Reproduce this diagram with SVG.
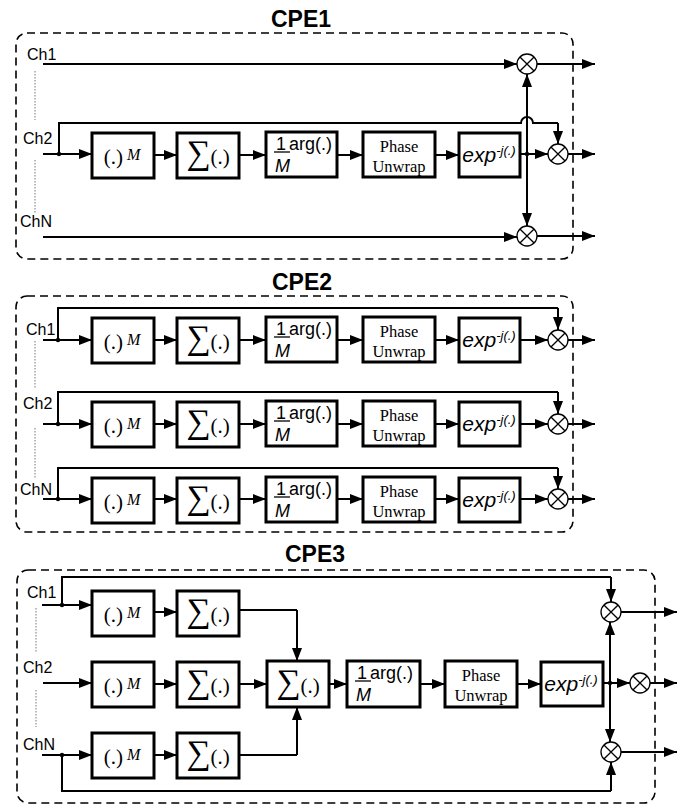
<svg xmlns="http://www.w3.org/2000/svg" width="693" height="806" viewBox="0 0 693 806">
<defs>
<marker id="ah" markerUnits="userSpaceOnUse" markerWidth="13" markerHeight="10" refX="13" refY="5" orient="auto">
<path d="M0,0 L13,5 L0,10 z" fill="#000"/>
</marker>
<g id="mul">
<circle cx="0" cy="0" r="10" fill="#fff" stroke="#000" stroke-width="1.3"/>
<path d="M-7.07,-7.07 L7.07,7.07 M-7.07,7.07 L7.07,-7.07" stroke="#000" stroke-width="1.3"/>
</g>
</defs>
<style>
.frame{fill:none;stroke:#000;stroke-width:1.6;stroke-dasharray:8 5}
.box{fill:#fff;stroke:#000;stroke-width:3}
.w{fill:none;stroke:#000;stroke-width:2}
.a{fill:none;stroke:#000;stroke-width:2;marker-end:url(#ah)}
.dot{fill:#000}
.dotted{stroke:#666;stroke-width:0.9;stroke-dasharray:1.5 1.5;fill:none}
.title{font-family:"Liberation Sans",Arial,sans-serif;font-weight:bold;font-size:23px;text-anchor:middle}
.lbl{font-family:"Liberation Sans",Arial,sans-serif;font-size:16px}
.ser{font-family:"Liberation Serif","Times New Roman",serif;font-size:21px;text-anchor:middle}
.sig{font-family:"Liberation Serif","Times New Roman",serif;text-anchor:middle}
.san{font-family:"Liberation Sans",Arial,sans-serif;font-size:18px}
.ph{font-family:"Liberation Serif","Times New Roman",serif;font-size:16.5px;text-anchor:middle}
.ex{font-family:"Liberation Sans",Arial,sans-serif;font-size:21px;font-style:italic;text-anchor:middle}
</style>

<!-- ================= CPE1 ================= -->
<g id="cpe1">
<text class="title" x="301" y="27">CPE1</text>
<rect class="frame" x="16" y="33" width="557" height="226" rx="11"/>
<text class="lbl" x="27" y="60">Ch1</text>
<text class="lbl" x="23" y="144">Ch2</text>
<text class="lbl" x="20" y="227">ChN</text>
<path class="dotted" d="M35,71 V120 M35,160 V213"/>
</g>
<g id="cpe1-connectors">
<path class="a" d="M43,64 H517"/>
<path class="w" d="M43,154 H59"/>
<path class="a" d="M59,154 H92"/>
<path class="w" d="M59,154 V123 H521 A6,6 0 0 1 533,123 H558"/>
<path class="a" d="M558,123 V144"/>
<path class="a" d="M154,155 H177"/>
<path class="a" d="M239,155 H266"/>
<path class="a" d="M337,155 H363"/>
<path class="a" d="M435,155 H459"/>
<path class="a" d="M520,154 H548"/>
<path class="a" d="M527,154 V74"/>
<path class="a" d="M527,154 V226"/>
<path class="a" d="M43,237 H517"/>
<path class="a" d="M537,64 H595"/>
<path class="a" d="M568,154 H595"/>
<path class="a" d="M537,236 H595"/>
<circle class="dot" cx="59" cy="154" r="2.2"/>
<circle class="dot" cx="527" cy="154" r="2.2"/>
</g>
<g id="cpe1-pow"><rect class="box" x="92" y="133" width="62" height="45"/><text class="ser" x="122" y="164">(.)<tspan font-style="italic" font-size="16" dy="-4"> M</tspan></text></g>
<g id="cpe1-sum"><rect class="box" x="177" y="133" width="62" height="45"/><text class="sig" x="208" y="164"><tspan font-size="34">∑</tspan><tspan font-size="21">(.)</tspan></text></g>
<g id="cpe1-arg"><rect class="box" x="266" y="132" width="71" height="45"/><text class="san" x="281" y="150" text-anchor="middle">1</text><path d="M274,152 H290" stroke="#000" stroke-width="1.3"/><text class="san" x="275" y="172" font-style="italic">M</text><text class="san" x="289" y="150">arg(.)</text></g>
<g id="cpe1-phase"><rect class="box" x="363" y="132" width="72" height="45"/><text class="ph" x="399" y="152">Phase</text><text class="ph" x="399" y="172">Unwrap</text></g>
<g id="cpe1-exp"><rect class="box" x="459" y="133" width="61" height="44"/><text class="ex" x="489" y="162">exp<tspan font-size="13" dy="-7">-j(.)</tspan></text></g>
<g id="cpe1-m1"><use href="#mul" x="527" y="64"/></g>
<g id="cpe1-m2"><use href="#mul" x="558" y="154"/></g>
<g id="cpe1-m3"><use href="#mul" x="527" y="236"/></g>

<!-- ================= CPE2 ================= -->
<g id="cpe2">
<text class="title" x="302" y="290">CPE2</text>
<rect class="frame" x="16" y="296" width="557" height="236" rx="11"/>
<text class="lbl" x="26" y="335">Ch1</text>
<text class="lbl" x="23" y="409">Ch2</text>
<text class="lbl" x="20" y="495">ChN</text>
<path class="dotted" d="M35,341 V388 M35,428 V478"/>
</g>
<g id="cpe2-connectors">
<path class="w" d="M43,340 H58 V308 H558"/>
<path class="a" d="M58,340 H92"/>
<path class="a" d="M558,308 V330"/>
<path class="a" d="M154,340 H177"/>
<path class="a" d="M239,340 H266"/>
<path class="a" d="M337,340 H363"/>
<path class="a" d="M435,340 H459"/>
<path class="a" d="M520,340 H548"/>
<path class="a" d="M568,340 H595"/>
<circle class="dot" cx="58" cy="340" r="2.2"/>

<path class="w" d="M43,424 H58 V392 H558"/>
<path class="a" d="M58,424 H92"/>
<path class="a" d="M558,392 V414"/>
<path class="a" d="M154,424 H177"/>
<path class="a" d="M239,424 H266"/>
<path class="a" d="M337,424 H363"/>
<path class="a" d="M435,424 H459"/>
<path class="a" d="M520,424 H548"/>
<path class="a" d="M568,424 H595"/>
<circle class="dot" cx="58" cy="424" r="2.2"/>

<path class="w" d="M43,499 H58 V468 H558"/>
<path class="a" d="M58,499 H92"/>
<path class="a" d="M558,468 V489"/>
<path class="a" d="M154,499 H177"/>
<path class="a" d="M239,499 H266"/>
<path class="a" d="M337,499 H363"/>
<path class="a" d="M435,499 H459"/>
<path class="a" d="M520,499 H548"/>
<path class="a" d="M568,499 H595"/>
<circle class="dot" cx="58" cy="499" r="2.2"/>
</g>
<g id="cpe2-pow1"><rect class="box" x="92" y="318" width="62" height="45"/><text class="ser" x="122" y="349">(.)<tspan font-style="italic" font-size="16" dy="-4"> M</tspan></text></g>
<g id="cpe2-sum1"><rect class="box" x="177" y="318" width="62" height="45"/><text class="sig" x="208" y="349"><tspan font-size="34">∑</tspan><tspan font-size="21">(.)</tspan></text></g>
<g id="cpe2-arg1"><rect class="box" x="266" y="317" width="71" height="45"/><text class="san" x="281" y="335" text-anchor="middle">1</text><path d="M274,337 H290" stroke="#000" stroke-width="1.3"/><text class="san" x="275" y="357" font-style="italic">M</text><text class="san" x="289" y="335">arg(.)</text></g>
<g id="cpe2-phase1"><rect class="box" x="363" y="317" width="72" height="45"/><text class="ph" x="399" y="337">Phase</text><text class="ph" x="399" y="357">Unwrap</text></g>
<g id="cpe2-exp1"><rect class="box" x="459" y="318" width="61" height="44"/><text class="ex" x="489" y="347">exp<tspan font-size="13" dy="-7">-j(.)</tspan></text></g>
<g id="cpe2-m1"><use href="#mul" x="558" y="340"/></g>

<g id="cpe2-pow2"><rect class="box" x="92" y="402" width="62" height="45"/><text class="ser" x="122" y="433">(.)<tspan font-style="italic" font-size="16" dy="-4"> M</tspan></text></g>
<g id="cpe2-sum2"><rect class="box" x="177" y="402" width="62" height="45"/><text class="sig" x="208" y="433"><tspan font-size="34">∑</tspan><tspan font-size="21">(.)</tspan></text></g>
<g id="cpe2-arg2"><rect class="box" x="266" y="401" width="71" height="45"/><text class="san" x="281" y="419" text-anchor="middle">1</text><path d="M274,421 H290" stroke="#000" stroke-width="1.3"/><text class="san" x="275" y="441" font-style="italic">M</text><text class="san" x="289" y="419">arg(.)</text></g>
<g id="cpe2-phase2"><rect class="box" x="363" y="401" width="72" height="45"/><text class="ph" x="399" y="421">Phase</text><text class="ph" x="399" y="441">Unwrap</text></g>
<g id="cpe2-exp2"><rect class="box" x="459" y="402" width="61" height="44"/><text class="ex" x="489" y="431">exp<tspan font-size="13" dy="-7">-j(.)</tspan></text></g>
<g id="cpe2-m2"><use href="#mul" x="558" y="424"/></g>

<g id="cpe2-pow3"><rect class="box" x="92" y="478" width="62" height="45"/><text class="ser" x="122" y="509">(.)<tspan font-style="italic" font-size="16" dy="-4"> M</tspan></text></g>
<g id="cpe2-sum3"><rect class="box" x="177" y="478" width="62" height="45"/><text class="sig" x="208" y="509"><tspan font-size="34">∑</tspan><tspan font-size="21">(.)</tspan></text></g>
<g id="cpe2-arg3"><rect class="box" x="266" y="477" width="71" height="45"/><text class="san" x="281" y="495" text-anchor="middle">1</text><path d="M274,497 H290" stroke="#000" stroke-width="1.3"/><text class="san" x="275" y="517" font-style="italic">M</text><text class="san" x="289" y="495">arg(.)</text></g>
<g id="cpe2-phase3"><rect class="box" x="363" y="477" width="72" height="45"/><text class="ph" x="399" y="497">Phase</text><text class="ph" x="399" y="517">Unwrap</text></g>
<g id="cpe2-exp3"><rect class="box" x="459" y="478" width="61" height="44"/><text class="ex" x="489" y="507">exp<tspan font-size="13" dy="-7">-j(.)</tspan></text></g>
<g id="cpe2-m3"><use href="#mul" x="558" y="499"/></g>

<!-- ================= CPE3 ================= -->
<g id="cpe3">
<text class="title" x="315" y="562">CPE3</text>
<rect class="frame" x="17" y="570" width="638" height="233" rx="11"/>
<text class="lbl" x="27" y="598">Ch1</text>
<text class="lbl" x="23" y="673">Ch2</text>
<text class="lbl" x="23" y="750">ChN</text>
<path class="dotted" d="M36,608 V652 M36,690 V727"/>
</g>
<g id="cpe3-connectors">
<path class="w" d="M42,605 H62 V577 H611"/>
<path class="a" d="M62,605 H92"/>
<path class="a" d="M611,577 V602"/>
<path class="a" d="M154,612 H177"/>
<path class="w" d="M239,610 H297"/>
<path class="a" d="M297,610 V661"/>
<circle class="dot" cx="62" cy="605" r="2.2"/>

<path class="a" d="M43,683 H92"/>
<path class="a" d="M154,684 H177"/>
<path class="a" d="M239,684 H267"/>
<path class="a" d="M329,684 H347"/>
<path class="a" d="M420,684 H445"/>
<path class="a" d="M517,684 H541"/>
<path class="a" d="M603,683 H630"/>
<path class="a" d="M610,683 V622"/>
<path class="a" d="M610,683 V742"/>
<circle class="dot" cx="610" cy="683" r="2.2"/>

<path class="w" d="M42,755 H62 V791 H611"/>
<path class="a" d="M62,755 H92"/>
<path class="a" d="M611,791 V762"/>
<path class="a" d="M154,755 H177"/>
<path class="w" d="M239,755 H297"/>
<path class="a" d="M297,755 V707"/>
<circle class="dot" cx="62" cy="755" r="2.2"/>

<path class="a" d="M621,612 H677"/>
<path class="a" d="M650,683 H677"/>
<path class="a" d="M621,752 H677"/>
</g>
<g id="cpe3-pow1"><rect class="box" x="92" y="591" width="62" height="45"/><text class="ser" x="122" y="622">(.)<tspan font-style="italic" font-size="16" dy="-4"> M</tspan></text></g>
<g id="cpe3-sum1"><rect class="box" x="177" y="591" width="62" height="45"/><text class="sig" x="208" y="622"><tspan font-size="34">∑</tspan><tspan font-size="21">(.)</tspan></text></g>
<g id="cpe3-pow2"><rect class="box" x="92" y="662" width="62" height="45"/><text class="ser" x="122" y="693">(.)<tspan font-style="italic" font-size="16" dy="-4"> M</tspan></text></g>
<g id="cpe3-sum2"><rect class="box" x="177" y="662" width="62" height="45"/><text class="sig" x="208" y="693"><tspan font-size="34">∑</tspan><tspan font-size="21">(.)</tspan></text></g>
<g id="cpe3-sumall"><rect class="box" x="267" y="661" width="62" height="46"/><text class="sig" x="298" y="693"><tspan font-size="34">∑</tspan><tspan font-size="21">(.)</tspan></text></g>
<g id="cpe3-arg"><rect class="box" x="347" y="661" width="73" height="46"/><text class="san" x="362" y="679" text-anchor="middle">1</text><path d="M355,681 H371" stroke="#000" stroke-width="1.3"/><text class="san" x="356" y="701" font-style="italic">M</text><text class="san" x="370" y="679">arg(.)</text></g>
<g id="cpe3-phase"><rect class="box" x="445" y="661" width="72" height="46"/><text class="ph" x="481" y="681">Phase</text><text class="ph" x="481" y="701">Unwrap</text></g>
<g id="cpe3-exp"><rect class="box" x="541" y="662" width="62" height="44"/><text class="ex" x="571" y="691">exp<tspan font-size="13" dy="-7">-j(.)</tspan></text></g>
<g id="cpe3-pow3"><rect class="box" x="92" y="733" width="62" height="45"/><text class="ser" x="122" y="764">(.)<tspan font-style="italic" font-size="16" dy="-4"> M</tspan></text></g>
<g id="cpe3-sum3"><rect class="box" x="177" y="733" width="62" height="45"/><text class="sig" x="208" y="764"><tspan font-size="34">∑</tspan><tspan font-size="21">(.)</tspan></text></g>
<g id="cpe3-m1"><use href="#mul" x="611" y="612"/></g>
<g id="cpe3-m2"><use href="#mul" x="640" y="683"/></g>
<g id="cpe3-m3"><use href="#mul" x="611" y="752"/></g>
</svg>
